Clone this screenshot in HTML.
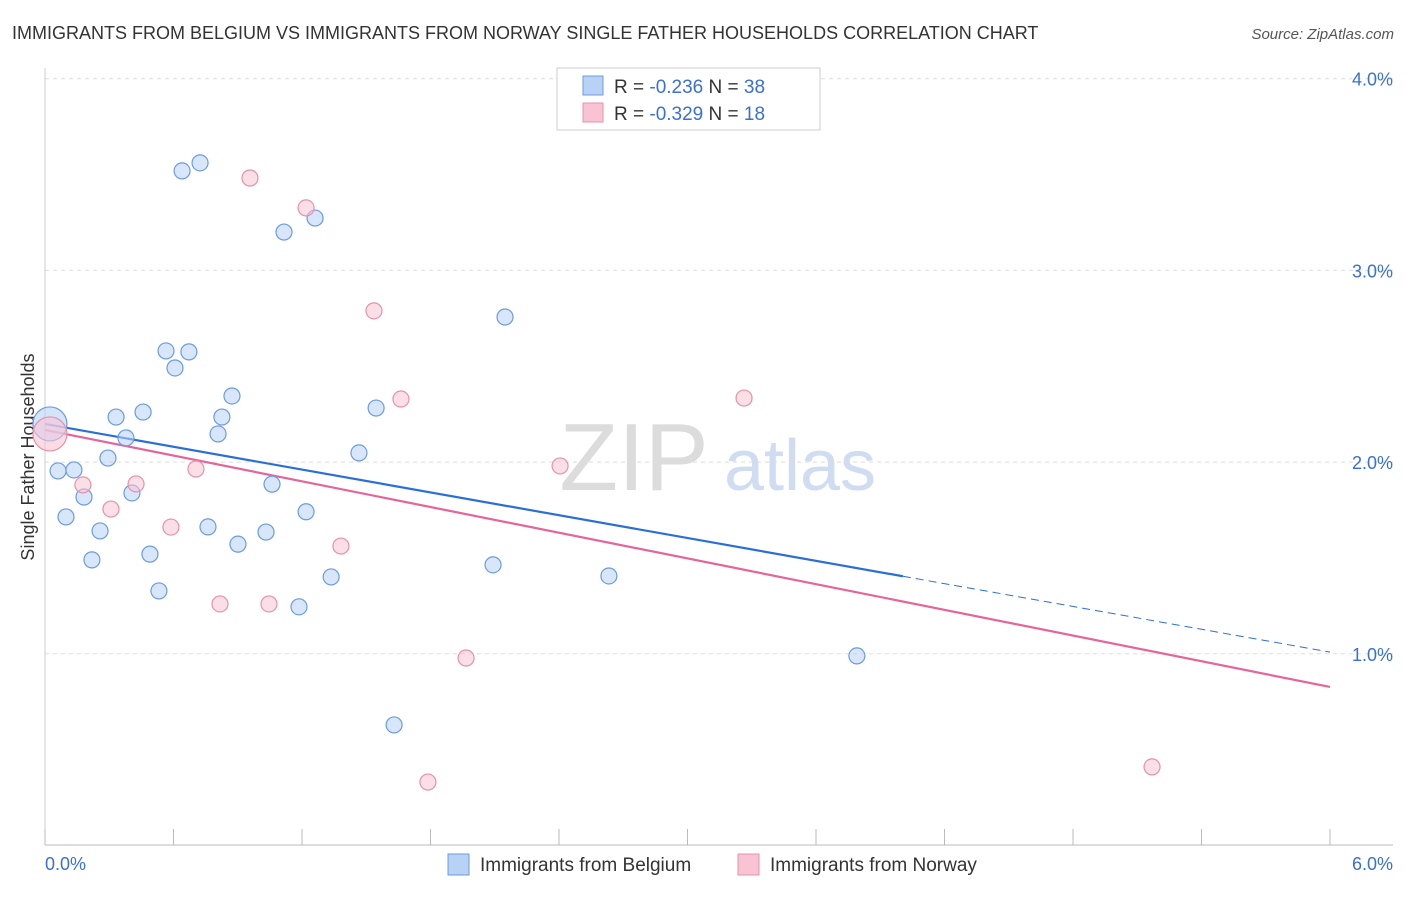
<!DOCTYPE html>
<html><head><meta charset="utf-8"><style>
body{margin:0;background:#fff;font-family:"Liberation Sans",sans-serif;}
svg text{font-family:"Liberation Sans",sans-serif;}
</style></head><body>
<svg id="chart" width="1406" height="892" viewBox="0 0 1406 892" xmlns="http://www.w3.org/2000/svg">
<text x="12" y="39" font-size="18" fill="#333">IMMIGRANTS FROM BELGIUM VS IMMIGRANTS FROM NORWAY SINGLE FATHER HOUSEHOLDS CORRELATION CHART</text>
<text x="1394" y="39" font-size="15" fill="#555" text-anchor="end" font-style="italic">Source: ZipAtlas.com</text>
<text transform="translate(34,457) rotate(-90)" font-size="18" fill="#333" text-anchor="middle">Single Father Households</text>
<g>
<text x="634" y="490" font-size="96" fill="#dcdcdc" text-anchor="middle" font-family="Liberation Serif">ZIP</text>
<text x="800" y="490" font-size="72" fill="#cfdcf2" text-anchor="middle">atlas</text>
</g>
<g id="grid"></g><g id="axes"></g><g id="lines"></g><g id="points"></g>
<g>
<rect x="557" y="68" width="263" height="62" fill="#fff" stroke="#ccc"/>
<rect x="583" y="76" width="20" height="19" fill="#b8d2f5" stroke="#6b9be0"/>
<text x="614" y="93" font-size="19" fill="#333">R = <tspan fill="#3a6fd8">-0.236</tspan>    N = <tspan fill="#3a6fd8">38</tspan></text>
<rect x="583" y="103" width="20" height="19" fill="#f8c4d4" stroke="#e890ab"/>
<text x="614" y="120" font-size="19" fill="#333">R = <tspan fill="#3a6fd8">-0.329</tspan>    N =  <tspan fill="#3a6fd8">18</tspan></text>
</g>
<g>
<rect x="448" y="854" width="21" height="21" fill="#b8d2f5" stroke="#6b9be0"/>
<text x="480" y="871" font-size="19" fill="#333">Immigrants from Belgium</text>
<rect x="738" y="854" width="21" height="21" fill="#f8c4d4" stroke="#e890ab"/>
<text x="770" y="871" font-size="19" fill="#333">Immigrants from Norway</text>
</g>
</svg>
<script>
const xTicks=[0,0.6,1.2,1.8,2.4,3.0,3.6,4.2,4.8,5.4,6.0];
const yTicks=[1,2,3,4];
const yTickLabels=["1.0%","2.0%","3.0%","4.0%"];
const belgiumX=[.023,.061,.135,.098,.182,.219,.257,.294,.332,.378,.406,.458,.490,.532,.565,.607,.640,.672,.724,.761,.808,.826,.873,.901,1.032,1.060,1.116,1.186,1.219,1.261,1.336,1.466,1.546,1.630,2.092,2.148,2.633,3.791];
const belgiumY=[2.199,1.954,1.959,1.714,1.818,1.490,1.641,2.021,2.235,2.126,1.839,2.261,1.520,1.328,2.580,2.491,3.519,2.575,3.561,1.662,2.147,2.235,2.345,1.572,1.635,1.885,3.200,1.245,1.741,3.273,1.401,2.048,2.282,0.629,1.464,2.757,1.406,0.989];
const norwayX=[.023,.177,.308,.425,.588,.705,.817,.957,1.046,1.219,1.382,1.536,1.662,1.966,2.405,3.264,5.169,1.788];
const norwayY=[2.147,1.881,1.755,1.886,1.661,1.964,1.260,3.482,1.260,3.326,1.562,2.789,2.329,0.978,1.980,2.334,0.410,0.331];
const belgiumTrend=[2.199,1.009];
const norwayTrend=[2.168,0.827];
const belgiumSolidEnd=4.006;
const NS="http://www.w3.org/2000/svg";
const X=v=>45+v/6*1285, Y=v=>845.5-v*191.7;
function mk(tag,attrs,parent){const e=document.createElementNS(NS,tag);for(const k in attrs)e.setAttribute(k,attrs[k]);document.getElementById(parent).appendChild(e);return e;}
yTicks.forEach((t,i)=>{
 const g=mk('line',{x1:45,x2:1393,y1:Y(t),y2:Y(t),stroke:'#ddd','stroke-dasharray':'4,4'},'grid');
 
 
 const l=mk('text',{x:1393,y:Y(t)+7,'font-size':18,fill:'#3a6fd8','text-anchor':'end'},'grid');l.textContent=yTickLabels[i];
 
 
});
const ax=mk('line',{x1:45,x2:1393,y1:845,y2:845,stroke:'#bbb'},'axes');


const ay=mk('line',{x1:45,x2:45,y1:68,y2:845,stroke:'#ccc'},'axes');


xTicks.forEach(t=>{const tk=mk('line',{x1:X(t),x2:X(t),y1:829,y2:845,stroke:'#bbb'},'axes');
 
 });
const xl0=mk('text',{x:45,y:870,'font-size':18,fill:'#3a6fd8'},'axes');xl0.textContent="0.0%";


const xl1=mk('text',{x:1393,y:870,'font-size':18,fill:'#3a6fd8','text-anchor':'end'},'axes');xl1.textContent="6.0%";


function pts(xs,ys,fill,stroke,name){xs.forEach((x,i)=>{const big=i===0;
 const c=mk('circle',{cx:X(x),cy:Y(ys[i]),r:big?17:8,fill:fill,'fill-opacity':big?0.6:0.55,stroke:stroke,'stroke-width':1.2},'points');
 
 });}
pts(belgiumX,belgiumY,'#b8d2f5','#6b9be0','belgium-point');
pts(norwayX,norwayY,'#f8c4d4','#e890ab','norway-point');
const bAt=x=>belgiumTrend[0]+(belgiumTrend[1]-belgiumTrend[0])*x/6;
const b1=mk('line',{x1:X(0),y1:Y(bAt(0)),x2:X(belgiumSolidEnd),y2:Y(bAt(belgiumSolidEnd)),stroke:'#2a6fd6','stroke-width':2.2},'lines');


const b2=mk('line',{x1:X(belgiumSolidEnd),y1:Y(bAt(belgiumSolidEnd)),x2:X(6),y2:Y(bAt(6)),stroke:'#2a6fd6','stroke-width':1,'stroke-dasharray':'8,5'},'lines');


const n1=mk('line',{x1:X(0),y1:Y(norwayTrend[0]),x2:X(6),y2:Y(norwayTrend[1]),stroke:'#e5659a','stroke-width':2.2},'lines');


</script>
</body></html>
